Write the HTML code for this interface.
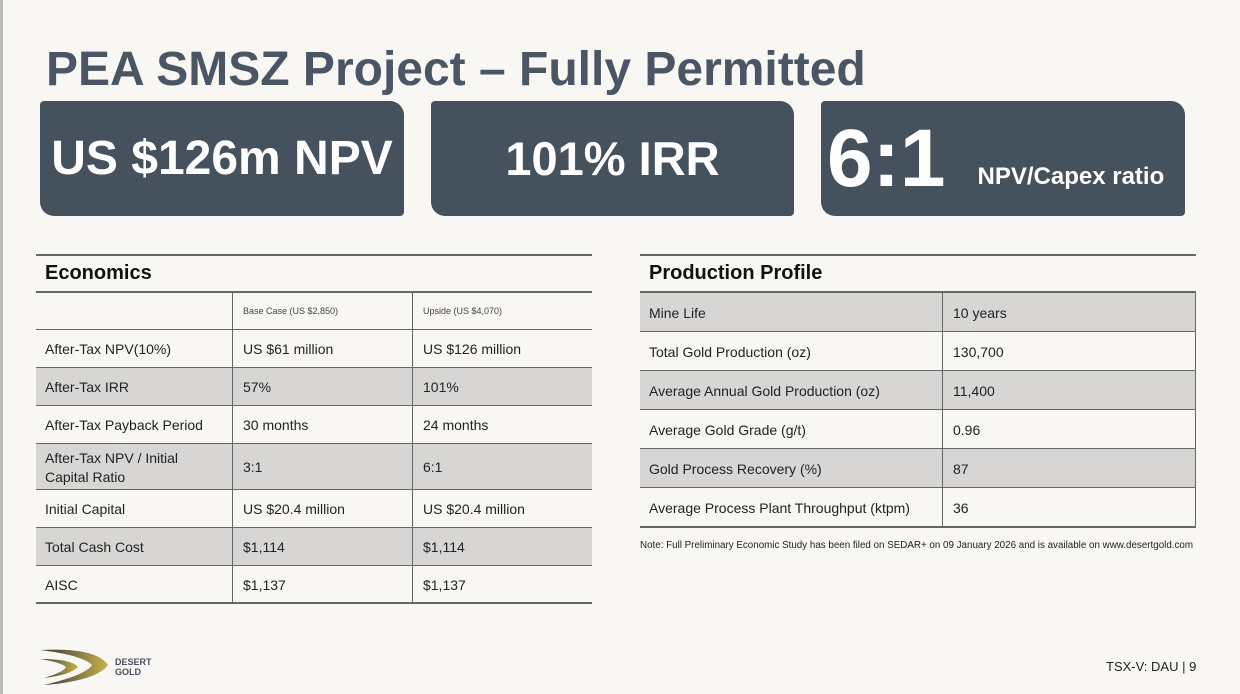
<!DOCTYPE html>
<html><head><meta charset="utf-8"><style>
*{margin:0;padding:0;box-sizing:border-box}
body{width:1240px;height:694px;background:#f9f7f4;font-family:"Liberation Sans",sans-serif;position:relative;overflow:hidden}
.edge{position:absolute;left:0;top:0;width:3px;height:694px;background:#bbb}
h1{position:absolute;left:46px;top:42px;font-size:48px;font-weight:bold;color:#4a5664;white-space:nowrap}
.box{position:absolute;top:101px;height:115px;background:#45525e;color:#fff;font-weight:bold;border-radius:4px 14px 4px 14px;display:flex;align-items:center}
.t{position:absolute;font-size:14px;color:#222;white-space:nowrap}
.hl{position:absolute;height:2px;background:#666}
.vl{position:absolute;width:2px;background:#666}
.g{position:absolute;background:#d7d6d4}
</style></head><body>
<div class="edge"></div>
<h1>PEA SMSZ Project – Fully Permitted</h1>
<div class="box" style="left:40px;width:364px;justify-content:center;font-size:48px">US $126m NPV</div>
<div class="box" style="left:431px;width:363px;justify-content:center;font-size:47px">101% IRR</div>
<div class="box" style="left:821px;width:364px"><span style="font-size:82px;margin-left:6px">6:1</span><span style="font-size:24px;margin-left:32px;margin-top:36px">NPV/Capex ratio</span></div>

<!-- Economics -->
<div class="g" style="left:36px;top:368px;width:556px;height:38px"></div>
<div class="g" style="left:36px;top:444px;width:556px;height:46px"></div>
<div class="g" style="left:36px;top:528px;width:556px;height:38px"></div>
<div class="hl" style="left:36px;top:254px;width:556px"></div>
<div class="hl" style="left:36px;top:291px;width:556px"></div>
<div class="hl" style="left:36px;top:329px;width:556px;height:1px"></div>
<div class="hl" style="left:36px;top:367px;width:556px;height:1px"></div>
<div class="hl" style="left:36px;top:405px;width:556px;height:1px"></div>
<div class="hl" style="left:36px;top:443px;width:556px;height:1px"></div>
<div class="hl" style="left:36px;top:489px;width:556px;height:1px"></div>
<div class="hl" style="left:36px;top:527px;width:556px;height:1px"></div>
<div class="hl" style="left:36px;top:565px;width:556px;height:1px"></div>
<div class="hl" style="left:36px;top:602px;width:556px"></div>
<div class="vl" style="left:232px;top:292px;height:311px;width:1px"></div>
<div class="vl" style="left:412px;top:292px;height:311px;width:1px"></div>
<div class="t" style="left:45px;top:262px;font-size:20px;font-weight:bold;color:#111">Economics</div>
<div class="t" style="left:243px;top:306px;font-size:9px;color:#444">Base Case (US $2,850)</div>
<div class="t" style="left:423px;top:306px;font-size:9px;color:#444">Upside (US $4,070)</div>
<div class="t" style="left:45px;top:341px">After-Tax NPV(10%)</div><div class="t" style="left:243px;top:341px">US $61 million</div><div class="t" style="left:423px;top:341px">US $126 million</div>
<div class="t" style="left:45px;top:379px">After-Tax IRR</div><div class="t" style="left:243px;top:379px">57%</div><div class="t" style="left:423px;top:379px">101%</div>
<div class="t" style="left:45px;top:417px">After-Tax Payback Period</div><div class="t" style="left:243px;top:417px">30 months</div><div class="t" style="left:423px;top:417px">24 months</div>
<div class="t" style="left:45px;top:449px;line-height:19px">After-Tax NPV / Initial<br>Capital Ratio</div><div class="t" style="left:243px;top:459px">3:1</div><div class="t" style="left:423px;top:459px">6:1</div>
<div class="t" style="left:45px;top:501px">Initial Capital</div><div class="t" style="left:243px;top:501px">US $20.4 million</div><div class="t" style="left:423px;top:501px">US $20.4 million</div>
<div class="t" style="left:45px;top:539px">Total Cash Cost</div><div class="t" style="left:243px;top:539px">$1,114</div><div class="t" style="left:423px;top:539px">$1,114</div>
<div class="t" style="left:45px;top:577px">AISC</div><div class="t" style="left:243px;top:577px">$1,137</div><div class="t" style="left:423px;top:577px">$1,137</div>

<!-- Production -->
<div class="g" style="left:640px;top:292px;width:556px;height:40px"></div>
<div class="g" style="left:640px;top:371px;width:556px;height:39px"></div>
<div class="g" style="left:640px;top:449px;width:556px;height:39px"></div>
<div class="hl" style="left:640px;top:254px;width:556px"></div>
<div class="hl" style="left:640px;top:291px;width:556px"></div>
<div class="hl" style="left:640px;top:331px;width:556px;height:1px"></div>
<div class="hl" style="left:640px;top:370px;width:556px;height:1px"></div>
<div class="hl" style="left:640px;top:409px;width:556px;height:1px"></div>
<div class="hl" style="left:640px;top:448px;width:556px;height:1px"></div>
<div class="hl" style="left:640px;top:487px;width:556px;height:1px"></div>
<div class="hl" style="left:640px;top:526px;width:556px"></div>
<div class="vl" style="left:942px;top:292px;height:235px;width:1px"></div>
<div class="vl" style="left:1195px;top:292px;height:235px;width:1px"></div>
<div class="t" style="left:649px;top:262px;font-size:20px;font-weight:bold;color:#111">Production Profile</div>
<div class="t" style="left:649px;top:305px">Mine Life</div><div class="t" style="left:953px;top:305px">10 years</div>
<div class="t" style="left:649px;top:344px">Total Gold Production (oz)</div><div class="t" style="left:953px;top:344px">130,700</div>
<div class="t" style="left:649px;top:383px">Average Annual Gold Production (oz)</div><div class="t" style="left:953px;top:383px">11,400</div>
<div class="t" style="left:649px;top:422px">Average Gold Grade (g/t)</div><div class="t" style="left:953px;top:422px">0.96</div>
<div class="t" style="left:649px;top:461px">Gold Process Recovery (%)</div><div class="t" style="left:953px;top:461px">87</div>
<div class="t" style="left:649px;top:500px">Average Process Plant Throughput (ktpm)</div><div class="t" style="left:953px;top:500px">36</div>
<div class="t" style="left:640px;top:540px;font-size:9.8px">Note: Full Preliminary Economic Study has been filed on SEDAR+ on 09 January 2026 and is available on www.desertgold.com</div>

<!-- Logo -->
<svg style="position:absolute;left:36px;top:645px" width="75" height="42" viewBox="0 0 75 42">
<defs><linearGradient id="lg" x1="0" x2="1"><stop offset="0" stop-color="#2e3440"/><stop offset="1" stop-color="#c9b24a"/></linearGradient></defs>
<path d="M4 5 Q60 2 72 20 Q60 36 8 40 Q50 30 56 20 Q46 10 4 5Z" fill="url(#lg)"/>
<path d="M4 14 Q36 14 42 22 Q34 30 8 33 Q28 27 30 22 Q24 17 4 14Z" fill="url(#lg)"/>
</svg>
<div class="t" style="left:115px;top:657px;font-size:9px;font-weight:bold;color:#4a5060;line-height:10px">DESERT<br>GOLD</div>
<div class="t" style="left:1106px;top:659px;font-size:13px;color:#222">TSX-V: DAU | 9</div>
</body></html>
